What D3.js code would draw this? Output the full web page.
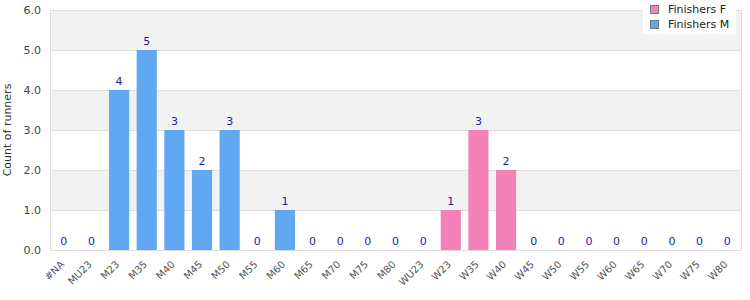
<!DOCTYPE html>
<html><head><meta charset="utf-8">
<script src="https://cdn.jsdelivr.net/npm/d3@7"></script>
<style>body{margin:0;background:#fff;} text{font-family:"DejaVu Sans",sans-serif;}</style>
</head><body><svg id="c" width="750" height="300"></svg>
<script>
const categories = ["#NA","MU23","M23","M35","M40","M45","M50","M55","M60","M65","M70","M75","M80","WU23","W23","W35","W40","W45","W50","W55","W60","W65","W70","W75","W80"];
const values = [0,0,4,5,3,2,3,0,1,0,0,0,0,0,1,3,2,0,0,0,0,0,0,0,0];
const seriesOf = ["M","M","M","M","M","M","M","M","M","M","M","M","M","M","F","F","F","F","F","F","F","F","F","F","F"];
const seriesNames = ["Finishers F","Finishers M"];
const seriesKeys = ["F","M"];
const yTicks = [0,1,2,3,4,5,6];
const colors = {F:"#f282b8", M:"#60a8f2"};

const svg = d3.select("#c");
const m = {l:50, r:9, t:10, b:50};
const W = 750, H = 300;
const x = d3.scaleBand().domain(categories).range([m.l, W-m.r]).paddingInner(0.27).paddingOuter(0.135);
const y = d3.scaleLinear().domain([0,6]).range([H-m.b, m.t]);

// bands
for (let i=0;i<yTicks.length-1;i++){
  const a=yTicks[i], b=yTicks[i+1];
  svg.append("rect").attr("x",m.l).attr("width",W-m.r-m.l)
    .attr("y",y(b)).attr("height",y(a)-y(b))
    .attr("fill", i%2===1 ? "#f2f2f2" : "#ffffff");
}
// grid lines
svg.append("g").selectAll("line").data(yTicks).join("line")
  .attr("x1",m.l).attr("x2",W-m.r).attr("y1",d=>y(d)).attr("y2",d=>y(d))
  .attr("stroke","#dddddd").attr("stroke-width",1).attr("shape-rendering","crispEdges");
// borders
svg.append("line").attr("x1",m.l).attr("x2",m.l).attr("y1",y(6)).attr("y2",y(0)).attr("stroke","#dddddd").attr("shape-rendering","crispEdges");
svg.append("line").attr("x1",W-m.r).attr("x2",W-m.r).attr("y1",y(6)).attr("y2",y(0)).attr("stroke","#dddddd").attr("shape-rendering","crispEdges");

// bars
svg.append("g").selectAll("rect").data(categories).join("rect")
  .attr("x",d=>x(d)).attr("width",x.bandwidth())
  .attr("y",(d,i)=>y(values[i])).attr("height",(d,i)=>y(0)-y(values[i]))
  .attr("fill",(d,i)=>colors[seriesOf[i]]);

// value labels
svg.append("g").selectAll("text").data(categories).join("text")
  .attr("x",d=>x(d)+x.bandwidth()/2).attr("y",(d,i)=>y(values[i])-5)
  .attr("text-anchor","middle").attr("font-size",11).attr("fill","#1c1c9c")
  .text((d,i)=>values[i]);

// y axis labels
const yAxis = d3.axisLeft(y).tickValues(yTicks).tickFormat(d3.format(".1f")).tickSize(0).tickPadding(9);
const gy = svg.append("g").attr("transform",`translate(${m.l},0)`).call(yAxis);
gy.select(".domain").remove();
gy.selectAll("text").attr("font-size",11).attr("fill","#444").attr("font-family","DejaVu Sans");

// x axis labels
const xAxis = d3.axisBottom(x).tickSize(0).tickPadding(0);
const gx = svg.append("g").attr("transform",`translate(0,${y(0)})`).call(xAxis);
gx.select(".domain").remove();
gx.selectAll("text").attr("font-size",10).attr("fill","#555").attr("font-family","DejaVu Sans")
  .attr("text-anchor","end").attr("dy",null).attr("y",0)
  .attr("transform","translate(1,15) rotate(-45)");

// y title
svg.append("text").attr("transform",`translate(11,${(y(0)+y(6))/2}) rotate(-90)`)
  .attr("text-anchor","middle").attr("font-size",11).attr("fill","#333").text("Count of runners");

// legend
const lg = svg.append("g");
lg.append("rect").attr("x",643).attr("y",0).attr("width",93).attr("height",34).attr("fill","#fff");
seriesKeys.forEach((k,i)=>{
  lg.append("rect").attr("x",650.5).attr("y",5.5+i*15).attr("width",8).attr("height",8)
    .attr("fill",colors[k]).attr("stroke","#777").attr("stroke-width",1);
  lg.append("text").attr("x",668).attr("y",13+i*15).attr("font-size",11).attr("fill","#222").text(seriesNames[i]);
});
</script></body></html>
